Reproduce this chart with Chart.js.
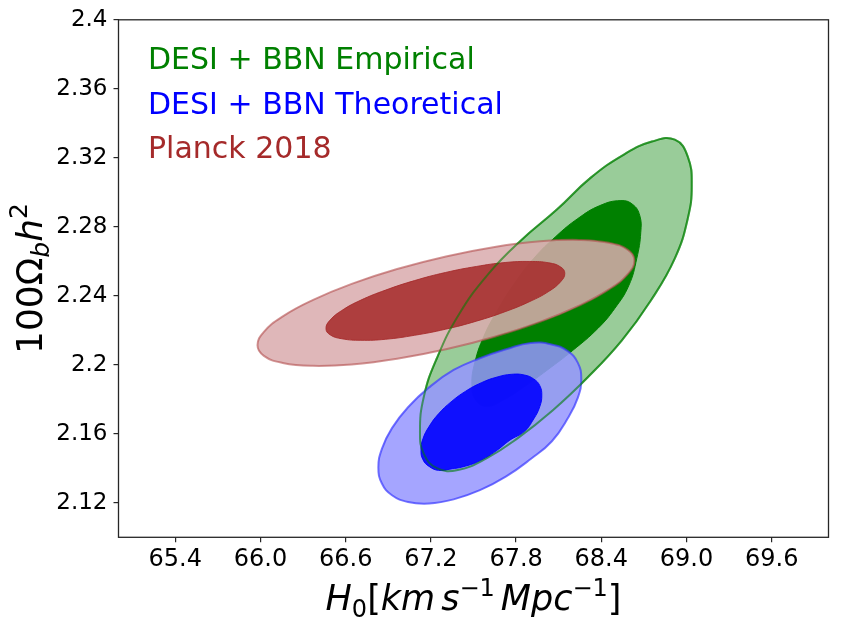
<!DOCTYPE html>
<html>
<head>
<meta charset="utf-8">
<script src="https://cdn.jsdelivr.net/npm/chart.js@4.4.1/dist/chart.umd.min.js"></script>
<style>
  body { margin: 0; background: #fff; }
  #wrap { width: 843px; height: 628px; }
</style>
</head>
<body>
<div id="wrap"><canvas id="myChart" width="843" height="628"></canvas></div>
<script>
/* axis ticks */
var xTicks = [65.4, 66.0, 66.6, 67.2, 67.8, 68.4, 69.0, 69.6];
var xTickLabels = ['65.4', '66.0', '66.6', '67.2', '67.8', '68.4', '69.0', '69.6'];
var yTicks = [2.12, 2.16, 2.2, 2.24, 2.28, 2.32, 2.36, 2.4];
var yTickLabels = ['2.12', '2.16', '2.2', '2.24', '2.28', '2.32', '2.36', '2.4'];
var seriesLabels = ['DESI + BBN Empirical', 'DESI + BBN Theoretical', 'Planck 2018'];

/* contour outlines (H0, 100 Omega_b h^2) */
var empOuterH0 = [69.037, 69.009, 68.918, 68.749, 68.545, 68.305, 68.059, 67.812, 67.594, 67.390, 67.242, 67.151,
                  67.123, 67.151, 67.242, 67.397, 67.608, 67.834, 68.087, 68.326, 68.559, 68.756, 68.918, 69.009];
var empOuterOmb = [2.3039, 2.2848, 2.2617, 2.2373, 2.2142, 2.1928, 2.1737, 2.1575, 2.1459, 2.1390, 2.1401, 2.1482,
                   2.1609, 2.1818, 2.2038, 2.2292, 2.2530, 2.2721, 2.2900, 2.3085, 2.3219, 2.3294, 2.3305, 2.3207];
var empInnerH0 = [68.538, 68.622, 68.671, 68.678, 68.650, 68.594, 68.495, 68.376, 68.200, 68.017, 67.862, 67.707,
                  67.594, 67.517, 67.489, 67.510, 67.573, 67.665, 67.784, 67.925, 68.080, 68.235, 68.390];
var empInnerOmb = [2.2952, 2.2929, 2.2865, 2.2767, 2.2617, 2.2460, 2.2327, 2.2211, 2.2084, 2.1968, 2.1876, 2.1795,
                   2.1760, 2.1795, 2.1882, 2.2015, 2.2165, 2.2310, 2.2466, 2.2617, 2.2744, 2.2848, 2.2923];
var theoOuterH0 = [68.259, 68.235, 68.164, 68.052, 67.903, 67.730, 67.545, 67.360, 67.187, 67.039, 66.926, 66.855,
                   66.830, 66.855, 66.926, 67.039, 67.187, 67.360, 67.545, 67.730, 67.903, 68.050, 68.164, 68.235];
var theoOuterOmb = [2.1919, 2.1810, 2.1690, 2.1557, 2.1454, 2.1353, 2.1273, 2.1220, 2.1196, 2.1205, 2.1244, 2.1312,
                    2.1404, 2.1513, 2.1633, 2.1754, 2.1869, 2.1970, 2.2038, 2.2090, 2.2127, 2.2118, 2.2079, 2.2011];
var theoInnerH0 = [67.981, 67.967, 67.924, 67.857, 67.756, 67.658, 67.552, 67.446, 67.334, 67.254, 67.187, 67.144,
                   67.130, 67.144, 67.187, 67.254, 67.342, 67.445, 67.555, 67.666, 67.769, 67.857, 67.924, 67.967];
var theoInnerOmb = [2.1824, 2.1758, 2.1686, 2.1613, 2.1563, 2.1500, 2.1447, 2.1413, 2.1395, 2.1388, 2.1411, 2.1450,
                    2.1505, 2.1571, 2.1642, 2.1716, 2.1785, 2.1847, 2.1896, 2.1929, 2.1945, 2.1941, 2.1918, 2.1879];
var planckOuterH0 = [68.633, 68.588, 68.454, 68.244, 67.969, 67.649, 67.306, 66.962, 66.642, 66.367, 66.157, 66.024,
                     65.979, 66.024, 66.157, 66.367, 66.642, 66.962, 67.306, 67.649, 67.969, 68.244, 68.454, 68.588];
var planckOuterOmb = [2.2605, 2.2527, 2.2437, 2.2343, 2.2249, 2.2163, 2.2090, 2.2035, 2.2002, 2.1994, 2.2011, 2.2052,
                      2.2113, 2.2191, 2.2281, 2.2375, 2.2469, 2.2555, 2.2628, 2.2683, 2.2716, 2.2724, 2.2707, 2.2666];
var planckInnerH0 = [68.143, 68.114, 68.031, 67.897, 67.723, 67.520, 67.302, 67.084, 66.881, 66.707, 66.573, 66.490,
                     66.461, 66.490, 66.573, 66.707, 66.881, 67.084, 67.302, 67.520, 67.723, 67.897, 68.031, 68.114];
var planckInnerOmb = [2.2530, 2.2482, 2.2426, 2.2367, 2.2308, 2.2253, 2.2206, 2.2171, 2.2148, 2.2142, 2.2151, 2.2174,
                      2.2211, 2.2259, 2.2315, 2.2375, 2.2433, 2.2488, 2.2535, 2.2570, 2.2593, 2.2599, 2.2591, 2.2567];

var seriesColors = ['green', 'blue', 'brown'];

function toPoints(xs, ys) {
    var pts = [];
    for (var i = 0; i < xs.length; i++) {
        pts.push({x: xs[i], y: ys[i]});
    }
    return pts;
}

/* one closed contour; higher order is painted first */
function contour(label, xs, ys, fillColor, edgeColor, edgeWidth, order) {
    return {
        label: label,
        data: toPoints(xs, ys),
        backgroundColor: fillColor,
        borderColor: edgeColor,
        borderWidth: edgeWidth,
        fill: fillColor ? 'shape' : false,
        tension: 0.45,
        spanGaps: true,
        pointRadius: 0,
        order: order
    };
}

/* make every line a closed smooth loop */
var closeLoop = {
    id: 'closeLoop',
    afterDatasetUpdate: function (chart, args) {
        if (args.meta.dataset) {
            args.meta.dataset._loop = true;
        }
    }
};

/* text made of runs of different size / offset, centred on x */
function drawRuns(ctx, runs, x, y) {
    var total = 0, i;
    for (i = 0; i < runs.length; i++) {
        ctx.font = runs[i].f;
        runs[i].w = ctx.measureText(runs[i].t).width;
        total += runs[i].w + (runs[i].gap || 0);
    }
    var cx = x - total / 2;
    for (i = 0; i < runs.length; i++) {
        ctx.font = runs[i].f;
        ctx.fillText(runs[i].t, cx, y + (runs[i].dy || 0));
        cx += runs[i].w + (runs[i].gap || 0);
    }
}

/* frame, legend text and math axis labels */
var decorations = {
    id: 'decorations',
    afterDraw: function (chart) {
        var ctx = chart.ctx;
        var a = chart.chartArea;
        ctx.save();
        ctx.strokeStyle = '#262626';
        ctx.lineWidth = 1.3;
        ctx.strokeRect(a.left, a.top, a.right - a.left, a.bottom - a.top);

        ctx.textAlign = 'left';
        ctx.textBaseline = 'alphabetic';
        ctx.font = '30px "DejaVu Sans"';
        for (var i = 0; i < seriesLabels.length; i++) {
            ctx.fillStyle = seriesColors[i];
            ctx.fillText(seriesLabels[i], 148, 69 + i * 44.5);
        }

        ctx.fillStyle = '#000';
        var it = 'italic 35px "DejaVu Sans"', up = '35px "DejaVu Sans"', sm = '24px "DejaVu Sans"';
        drawRuns(ctx, [
            {t: 'H', f: it},
            {t: '0', f: sm, dy: 7},
            {t: '[', f: up},
            {t: 'km', f: it, gap: 6},
            {t: 's', f: it},
            {t: '\u22121', f: sm, dy: -14, gap: 6},
            {t: 'Mpc', f: it},
            {t: '\u22121', f: sm, dy: -14},
            {t: ']', f: up}
        ], (a.left + a.right) / 2, 610);

        ctx.translate(42, (a.top + a.bottom) / 2);
        ctx.rotate(-Math.PI / 2);
        drawRuns(ctx, [
            {t: '100\u03A9', f: '36px "DejaVu Sans"'},
            {t: 'b', f: 'italic 25px "DejaVu Sans"', dy: 7},
            {t: 'h', f: 'italic 36px "DejaVu Sans"'},
            {t: '2', f: '25px "DejaVu Sans"', dy: -15}
        ], 0, 0);
        ctx.restore();
    }
};

var datasets = [
    contour(seriesLabels[0], empOuterH0, empOuterOmb, null, 'rgba(0,128,0,0.55)', 2, 0),
    contour(seriesLabels[2], planckInnerH0, planckInnerOmb, 'rgba(165,42,42,0.86)', 'rgba(165,42,42,0.86)', 1, 1),
    contour(seriesLabels[2], planckOuterH0, planckOuterOmb, 'rgba(218,171,174,0.86)', 'rgba(180,80,80,0.6)', 2, 2),
    contour(seriesLabels[1], theoInnerH0, theoInnerOmb, 'rgba(0,0,255,0.9)', 'rgba(0,0,255,0.9)', 1, 3),
    contour(seriesLabels[1], theoOuterH0, theoOuterOmb, 'rgba(149,149,255,0.85)', 'rgba(60,60,255,0.7)', 2, 4),
    contour(seriesLabels[0], empInnerH0, empInnerOmb, 'rgb(0,128,0)', 'rgb(0,128,0)', 1, 5),
    contour(seriesLabels[0], empOuterH0, empOuterOmb, 'rgb(153,204,153)', 'rgba(0,128,0,0.55)', 2, 6)
];

var chart = new Chart(document.getElementById('myChart'), {
    type: 'line',
    data: { datasets: datasets },
    options: {
        responsive: false,
        animation: false,
        devicePixelRatio: 1,
        layout: { padding: { top: 19, right: 14.5, left: 0, bottom: 0 } },
        plugins: {
            legend: { display: false },
            tooltip: { enabled: false }
        },
        scales: {
            x: {
                type: 'linear',
                min: 65,
                max: 70,
                afterBuildTicks: function (s) {
                    s.ticks = xTicks.map(function (v) { return {value: v}; });
                },
                afterFit: function (s) { s.height = 90.7; },
                ticks: {
                    autoSkip: false,
                    maxRotation: 0,
                    padding: 3,
                    color: '#000',
                    font: { family: 'DejaVu Sans', size: 24 },
                    callback: function (v, i) { return xTickLabels[i]; }
                },
                grid: { drawOnChartArea: false, tickLength: 5, color: '#262626', lineWidth: 1.2 },
                border: { display: false }
            },
            y: {
                type: 'linear',
                min: 2.1,
                max: 2.4,
                afterBuildTicks: function (s) {
                    s.ticks = yTicks.map(function (v) { return {value: v}; });
                },
                afterFit: function (s) { s.width = 118.5; },
                ticks: {
                    autoSkip: false,
                    padding: 6,
                    color: '#000',
                    font: { family: 'DejaVu Sans', size: 23 },
                    callback: function (v, i) { return yTickLabels[i]; }
                },
                grid: { drawOnChartArea: false, tickLength: 5, color: '#262626', lineWidth: 1.2 },
                border: { display: false }
            }
        }
    },
    plugins: [closeLoop, decorations]
});
</script>
</body>
</html>
